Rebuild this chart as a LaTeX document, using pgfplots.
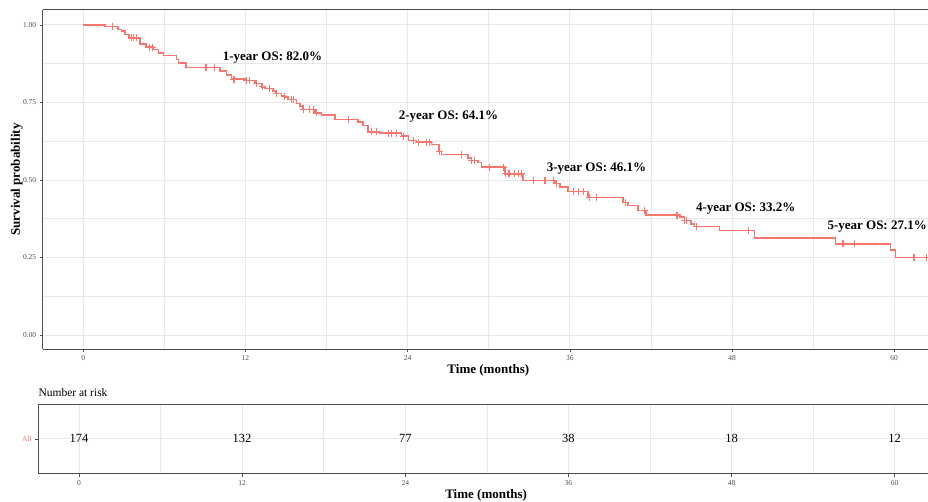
\documentclass[border=0pt]{standalone}
\usepackage{fontspec}
\setmainfont{Liberation Serif}
\usepackage{pgfplots}
\pgfplotsset{compat=1.18}
\definecolor{km}{HTML}{F8766D}
\definecolor{gridc}{HTML}{E8E8E8}
\definecolor{framec}{HTML}{4D4D4D}
\definecolor{ticklab}{HTML}{4D4D4D}

\pgfplotsset{kmframe/.style={
  scale only axis,
  separate axis lines,
  axis x line*=box, axis y line*=left,
  axis line style={-, draw=framec, line width=1pt},
  xtick={0,12,...,60}, minor xtick={6,18,30,42,54},
  xtick pos=bottom, ytick pos=left,
  tick align=outside, major tick length=3pt, minor tick length=0pt,
  every tick/.append style={framec, line width=0.6pt},
  xmajorgrids, xminorgrids,
  major grid style={gridc, line width=0.9pt},
  minor grid style={gridc, line width=0.5pt},
  tick label style={font=\fontsize{7.5}{9}\selectfont, text=ticklab},
  /pgf/number format/assume math mode=true,
  xlabel={Time (months)},
  xlabel style={font=\fontsize{13}{15}\selectfont\bfseries, at={(axis description cs:0.5,0)}, anchor=center, yshift=-21.5pt, xshift=3pt},
}}

\begin{document}
\begin{tikzpicture}
\useasboundingbox (0,0) rectangle (928pt,501pt);
\clip (0,0) rectangle (928pt,501pt);

% survival curve
\begin{axis}[kmframe,
  at={(42.7pt,152pt)}, anchor=south west, width=885.3pt, height=339pt,
  xmin=-3, xmax=62.5, ymin=-0.045, ymax=1.048,
  ytick={0,0.25,0.5,0.75,1}, minor ytick={0.125,0.375,0.625,0.875},
  ymajorgrids, yminorgrids,
  yticklabel style={/pgf/number format/fixed, /pgf/number format/fixed zerofill, /pgf/number format/precision=2},
  ylabel={Survival probability},
  ylabel style={font=\fontsize{13}{15}\selectfont\bfseries, at={(axis description cs:0,0.5)}, anchor=center, yshift=26pt},
  clip=false,
]
\addplot[const plot, km, line width=1.5pt] coordinates {
(0,1.000) (1.61,0.994) (2.57,0.985) (2.84,0.980) (3.08,0.969) (3.40,0.958)
(4.19,0.939) (4.64,0.928) (5.18,0.920) (5.55,0.909) (5.92,0.901) (6.91,0.888)
(7.03,0.877) (7.60,0.863) (10.11,0.852) (10.61,0.839) (10.98,0.825) (11.96,0.820)
(12.70,0.811) (13.20,0.800) (13.44,0.795) (14.05,0.787) (14.25,0.779) (14.67,0.773)
(14.92,0.768) (15.16,0.760) (15.78,0.747) (16.03,0.738) (16.27,0.727) (17.14,0.716)
(17.63,0.709) (18.62,0.695) (20.34,0.687) (20.71,0.676) (21.08,0.655) (21.94,0.651)
(23.55,0.641) (24.05,0.628) (24.66,0.622) (25.77,0.614) (26.33,0.592) (26.51,0.582)
(28.48,0.571) (28.73,0.563) (29.22,0.556) (29.47,0.541) (31.19,0.520) (32.54,0.498)
(34.89,0.488) (35.26,0.477) (35.87,0.463) (37.35,0.444) (39.94,0.428) (40.31,0.417)
(41.05,0.401) (41.62,0.387) (44.13,0.380) (44.50,0.369) (44.95,0.358) (45.24,0.350)
(47.09,0.337) (49.68,0.313) (55.67,0.294) (59.74,0.274) (60.11,0.250) (62.5,0.250)
};
\addplot[only marks, mark=+, mark size=3.5pt, km, line width=1.1pt] coordinates {
(2.16,0.994) (3.60,0.958) (3.75,0.958) (3.95,0.958) (4.93,0.928) (5.13,0.928)
(9.08,0.863) (9.70,0.863) (11.15,0.825) (12.07,0.820) (12.33,0.820) (12.85,0.811)
(13.23,0.800) (13.81,0.795) (14.30,0.779) (14.92,0.768) (15.41,0.760) (15.53,0.760)
(16.32,0.727) (16.77,0.727) (17.01,0.727) (17.26,0.716) (19.60,0.695) (21.33,0.655)
(21.70,0.655) (22.56,0.651) (22.81,0.651) (23.18,0.651) (23.67,0.641) (24.41,0.628)
(24.78,0.622) (25.40,0.622) (25.64,0.622) (26.33,0.592) (27.99,0.582) (28.73,0.563)
(28.93,0.563) (30.08,0.541) (31.07,0.541) (31.26,0.520) (31.43,0.520) (31.56,0.520)
(31.93,0.520) (32.17,0.520) (32.43,0.520) (33.28,0.498) (34.15,0.498) (34.22,0.498)
(34.76,0.498) (35.01,0.488) (36.24,0.463) (36.61,0.463) (36.98,0.463) (37.48,0.444)
(37.97,0.444) (40.14,0.428) (41.55,0.401) (43.93,0.387) (44.50,0.369) (44.63,0.369)
(45.37,0.350) (49.19,0.337) (56.21,0.294) (57.03,0.294) (61.46,0.250) (62.38,0.250)
};
\begin{scope}[every node/.style={font=\fontsize{13}{15}\selectfont\bfseries, anchor=west, inner sep=0pt}]
\node at (axis cs:10.31,0.895) {1-year OS: 82.0\%};
\node at (axis cs:23.33,0.703) {2-year OS: 64.1\%};
\node at (axis cs:34.28,0.536) {3-year OS: 46.1\%};
\node at (axis cs:45.32,0.407) {4-year OS: 33.2\%};
\node at (axis cs:55.05,0.350) {5-year OS: 27.1\%};
\end{scope}
\end{axis}

% number at risk table
\begin{axis}[kmframe,
  at={(38.3pt,27.3pt)}, anchor=south west, width=889.7pt, height=69.7pt,
  xmin=-2.99, xmax=62.45, ymin=0, ymax=1,
  ytick={0.5}, yticklabels={All}, ymajorgrids,
  yticklabel style={text=km},
]
\addplot[draw=none, mark=none, nodes near coords, point meta=explicit symbolic,
  every node near coord/.append style={font=\fontsize{12.5}{14}\selectfont, anchor=center, text=black}]
coordinates {(0,0.5)[174] (12,0.5)[132] (24,0.5)[77] (36,0.5)[38] (48,0.5)[18] (60,0.5)[12]};
\end{axis}

\node[anchor=west, inner sep=0pt, font=\fontsize{11.5}{13}\selectfont] at (38.3pt,108.7pt) {Number at risk};
\end{tikzpicture}
\end{document}
